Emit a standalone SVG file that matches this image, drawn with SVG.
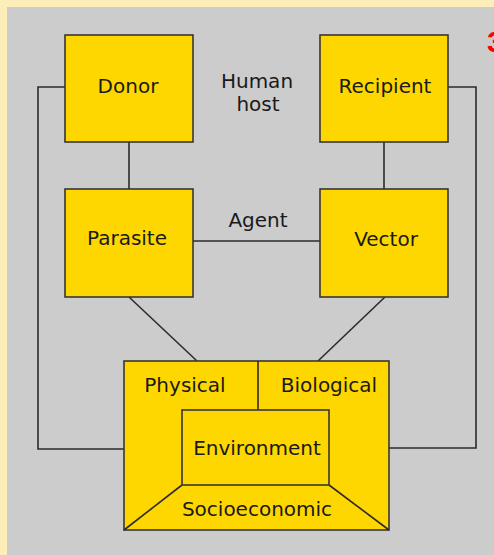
<svg xmlns="http://www.w3.org/2000/svg" width="494" height="555" viewBox="0 0 494 555">
<style>
.box{fill:#FFD700;stroke:#3a3535;stroke-width:1.6}
.ln{fill:none;stroke:#2e2a2c;stroke-width:1.6}
.t{font-family:"DejaVu Sans",Verdana,sans-serif;font-size:20px;fill:#1a1a1a;text-anchor:middle}
</style>
<rect x="0" y="0" width="494" height="555" fill="#FDEDB9"/>
<rect x="7" y="7" width="487" height="548" fill="#CCCCCC"/>
<text x="487" y="52" font-family="Liberation Sans,Arial,sans-serif" font-size="30" font-weight="bold" fill="#FF0000">3</text>
<g id="connectors">
<polyline class="ln" points="65,87 38,87 38,449 124,449"/>
<polyline class="ln" points="448,87 476,87 476,448 389,448"/>
<line class="ln" x1="129" y1="142" x2="129" y2="189"/>
<line class="ln" x1="384" y1="142" x2="384" y2="189"/>
<line class="ln" x1="193" y1="241" x2="320" y2="241"/>
<line class="ln" x1="129" y1="297" x2="197" y2="361"/>
<line class="ln" x1="385" y1="297" x2="318" y2="361"/>
</g>
<g id="donor"><rect class="box" x="65" y="35" width="128" height="107"/><text class="t" x="128" y="93">Donor</text></g>
<g id="recipient"><rect class="box" x="320" y="35" width="128" height="107"/><text class="t" x="385" y="93">Recipient</text></g>
<g id="human-host"><text class="t" x="257" y="88">Human</text><text class="t" x="258" y="111">host</text></g>
<g id="parasite"><rect class="box" x="65" y="189" width="128" height="108"/><text class="t" x="127" y="245">Parasite</text></g>
<g id="vector"><rect class="box" x="320" y="189" width="128" height="108"/><text class="t" x="386" y="246">Vector</text></g>
<g id="agent"><text class="t" x="258" y="227">Agent</text></g>
<g id="environment">
<rect class="box" x="124" y="361" width="265" height="169"/>
<line class="ln" x1="258" y1="361" x2="258" y2="410"/>
<rect class="box" x="182" y="410" width="147" height="75"/>
<line class="ln" x1="124" y1="530" x2="182" y2="485"/>
<line class="ln" x1="389" y1="530" x2="329" y2="485"/>
<text class="t" x="185" y="392">Physical</text>
<text class="t" x="329" y="392">Biological</text>
<text class="t" x="257" y="455">Environment</text>
<text class="t" x="257" y="516">Socioeconomic</text>
</g>
</svg>
